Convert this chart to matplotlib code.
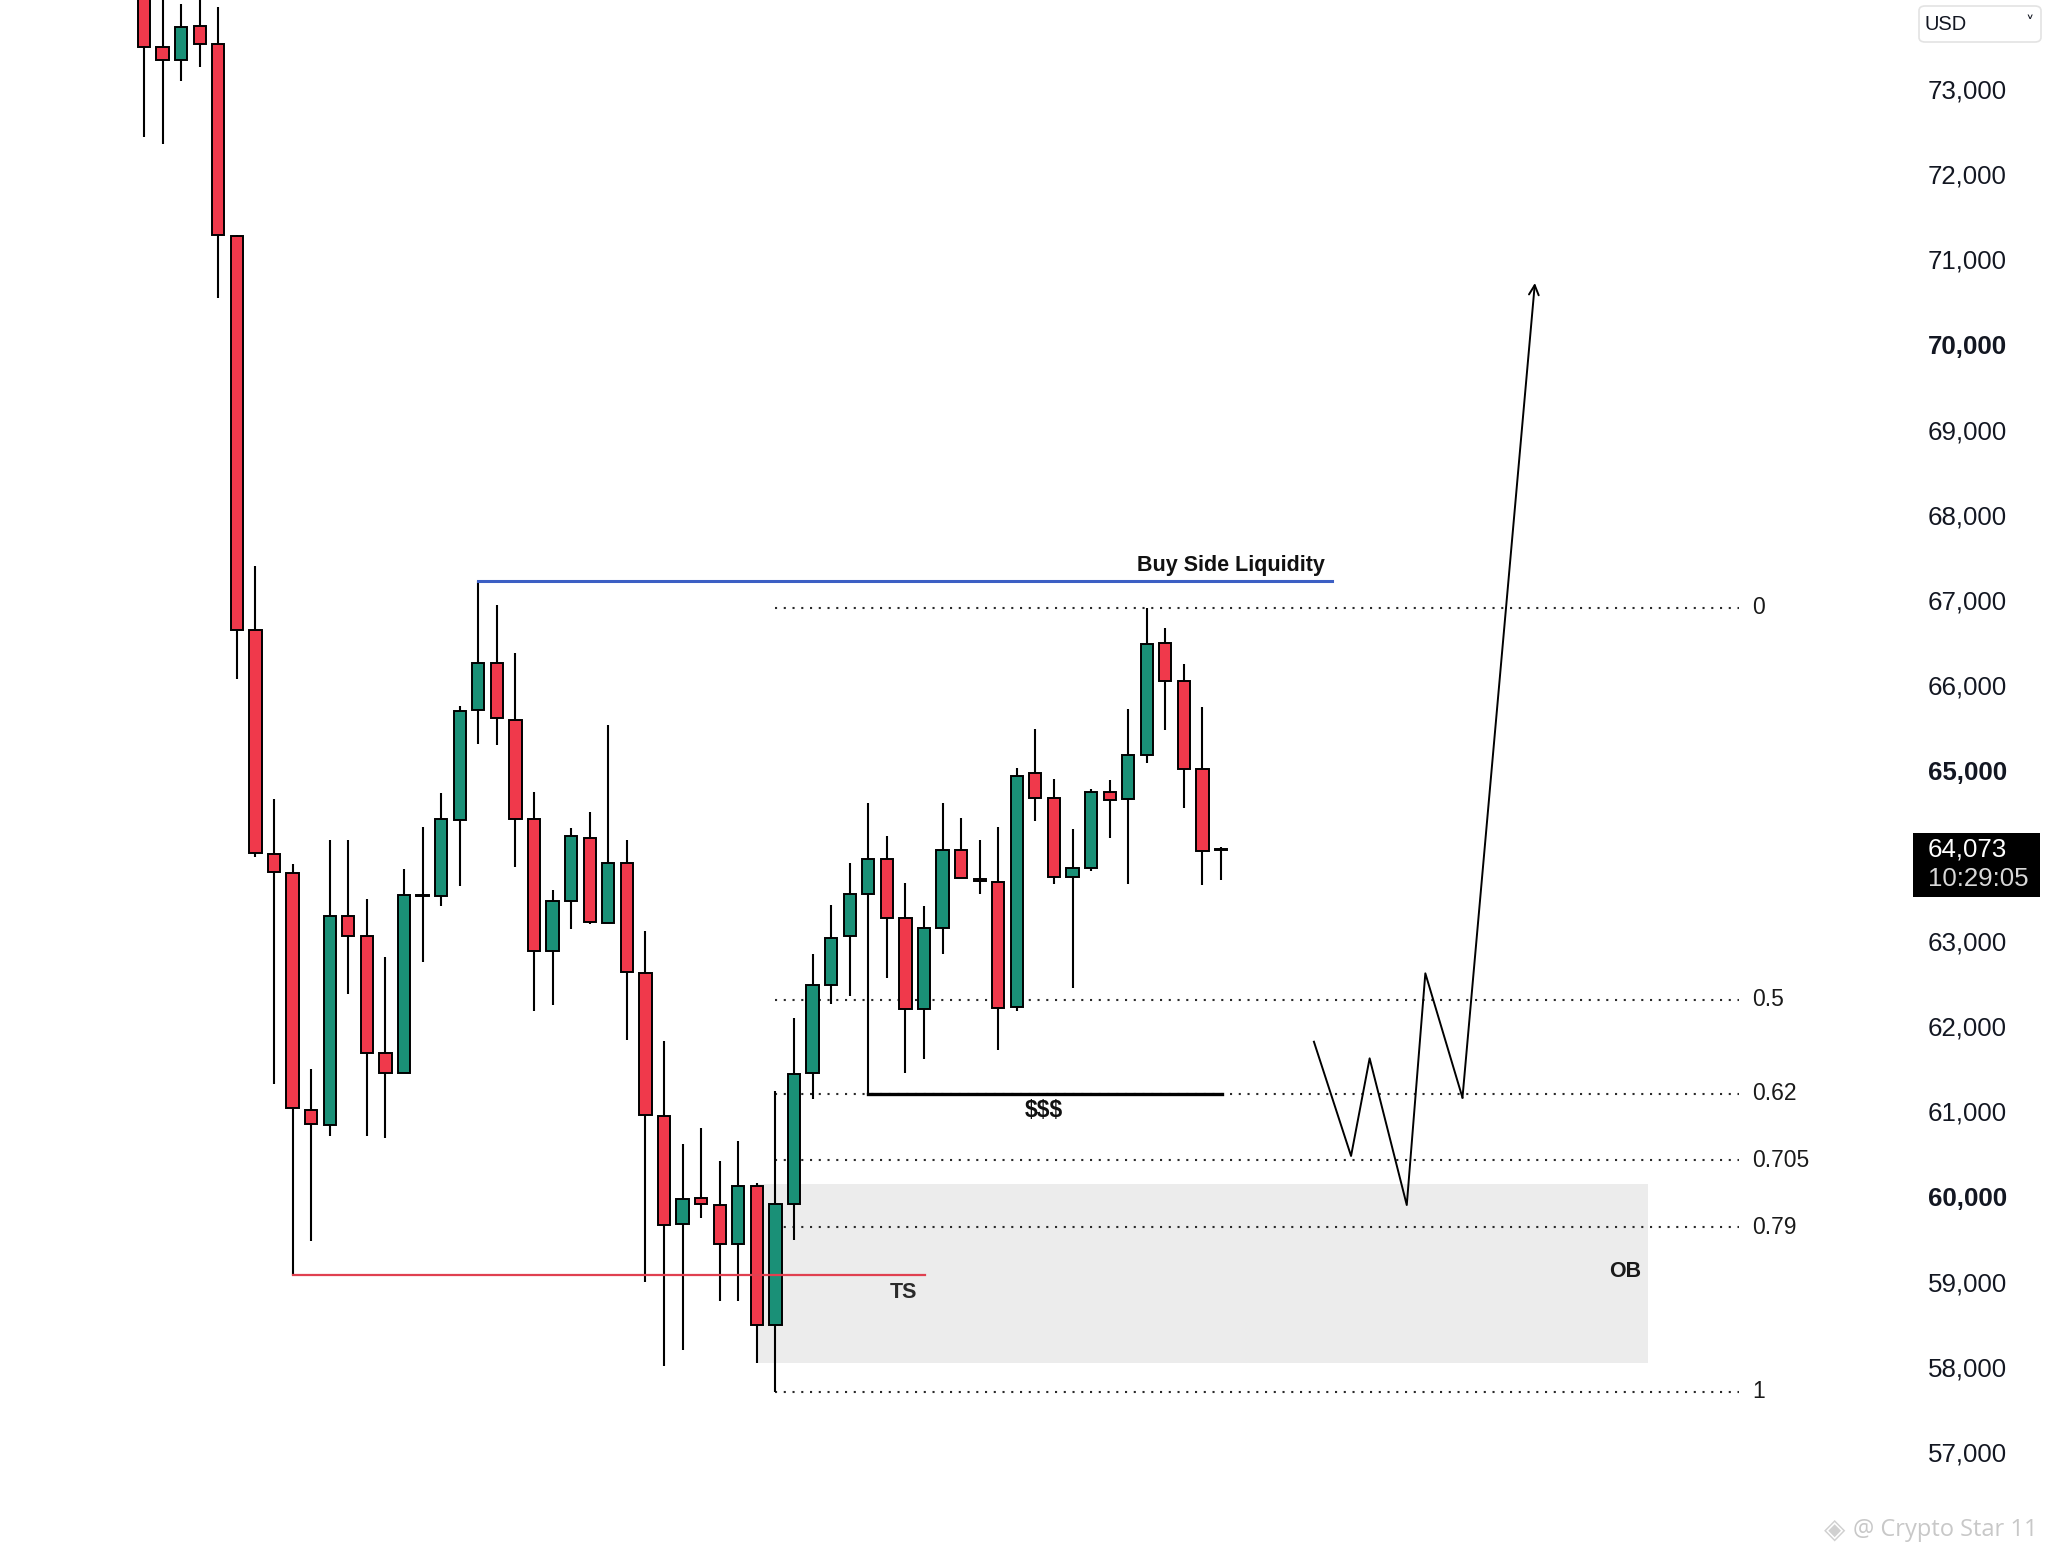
import matplotlib
matplotlib.use("Agg")
from matplotlib import pyplot as plt
from matplotlib.patches import Rectangle, FancyBboxPatch
import numpy as np

plt.rcParams['font.family'] = ['Liberation Sans', 'DejaVu Sans']

# candles (open, high, low, close), one per bar
opens = [74300, 73494, 73338, 73737, 73534, 71271, 66650, 64024, 63794, 61017,
         60844, 63296, 63055, 61682, 61446, 63532, 63527, 64417, 65707, 66267,
         65597, 64433, 62887, 63474, 64213, 63210, 63920, 62625, 60945, 59680,
         59980, 59897, 59438, 60126, 58489, 59916, 61444, 62483, 63056, 63553,
         63961, 63273, 62196, 63152, 64069, 63725, 63693, 62220, 64968, 64672,
         63754, 63862, 64752, 64663, 65188, 66492, 66052, 65013, 64073]
highs = [74500, 74200, 73996, 74100, 73957, 71290, 67404, 64669, 63909, 61499,
         64187, 64187, 63490, 62809, 63841, 64339, 64742, 65754, 67230, 66938,
         66382, 64748, 63595, 64323, 64512, 65530, 64185, 63115, 61827, 60617,
         60808, 60413, 60655, 60158, 61241, 62101, 62852, 63419, 63916, 64617,
         64235, 63680, 63407, 64617, 64439, 64190, 64343, 65031, 65490, 64905,
         64312, 64788, 64887, 65719, 66910, 66672, 66245, 65741, 64101]
lows = [72437, 72360, 73095, 73260, 70547, 66075, 63988, 61315, 59080, 59481,
        60713, 62374, 60713, 60687, 61446, 62756, 63411, 63647, 65313, 65298,
        63867, 62180, 62248, 63139, 63202, 63210, 61840, 58992, 58011, 58202,
        59744, 58769, 58769, 58043, 57710, 59489, 61145, 62260, 62356, 61206,
        62566, 61451, 61610, 62852, 63738, 63553, 61718, 62175, 64410, 63674,
        62447, 63826, 64213, 63674, 65089, 65472, 64564, 63651, 63719]
closes = [73494, 73338, 73729, 73534, 71283, 66650, 64038, 63804, 61038, 60854,
          63296, 63055, 61682, 61446, 63542, 63540, 64433, 65701, 66267, 65612,
          64433, 62887, 63474, 64234, 63228, 63920, 62630, 60960, 59661, 59967,
          59916, 59438, 60126, 58489, 59916, 61438, 62483, 63037, 63553, 63961,
          63273, 62196, 63152, 64069, 63738, 63700, 62216, 64940, 64683, 63754,
          63853, 64752, 64653, 65179, 66483, 66052, 65018, 64056, 64073]

price_ticks = [57000, 58000, 59000, 60000, 61000, 62000, 63000,
               65000, 66000, 67000, 68000, 69000, 70000, 71000, 72000, 73000]
bold_ticks = [60000, 65000, 70000]

# fib retracement
fib_high = 66910
fib_low = 57710
fib_levels = [0, 0.5, 0.62, 0.705, 0.79, 1]
fib_labels = ['0', '0.5', '0.62', '0.705', '0.79', '1']

bsl_price = 67230      # buy side liquidity
ts_price = 59080       # TS line
ob_top, ob_bottom = 60150, 58050

# projected path
path_x = [63.0, 65.0, 66.0, 68.0, 69.0, 71.0, 74.9]
path_y = [61817, 60476, 61622, 59900, 62620, 61160, 70723]

GREEN = '#1a9077'
RED = '#f0394b'

W, H = 2048, 1555
fig = plt.figure(figsize=(W / 100, H / 100), dpi=100)
fig.patch.set_facecolor('white')
ax = fig.add_axes([0, 0, 1905 / W, 1])
ax.set_facecolor('white')

x = np.arange(len(opens))
o = np.array(opens); c = np.array(closes)
cols = [GREEN if cc > oo else RED for oo, cc in zip(opens, closes)]
cols[15] = GREEN
bottoms = np.minimum(o, c)
heights = np.maximum(np.abs(c - o), 12)

ax.vlines(x, lows, highs, color='black', lw=1.5, zorder=2)
ax.bar(x, heights, bottom=bottoms, width=0.66, color=cols, edgecolor='black',
       linewidth=1.4, zorder=3)

# order block
ax.add_patch(Rectangle((33, ob_bottom), 81 - 33, ob_top - ob_bottom,
                       facecolor='#ececec', edgecolor='none', zorder=0))
ax.text(79.75, 59114, 'OB', fontsize=15.5, fontweight='bold', color='#1a1a1a',
        ha='center', va='center', zorder=5)

# fib levels
for lv, lb in zip(fib_levels, fib_labels):
    p = fib_high - lv * (fib_high - fib_low)
    ax.plot([34, 85.9], [p, p], color='#2a2a2a', lw=1.5,
            linestyle=(0, (1, 3.2)), zorder=1)
    ax.text(86.6, p, lb, fontsize=16.5, color='#1a1a1a', ha='left', va='center')

# buy side liquidity
ax.plot([18, 64], [bsl_price, bsl_price], color='#3c5fc4', lw=2.2, zorder=4)
ax.text(63.6, 67346, 'Buy Side Liquidity', fontsize=15.5, fontweight='bold',
        color='#111111', ha='right', va='baseline')

# TS line
ax.plot([8, 42.05], [ts_price, ts_price], color='#e04050', lw=1.6, zorder=4)
ax.text(40.87, 58879, 'TS', fontsize=15.5, fontweight='bold', color='#2a2a2a',
        ha='center', va='center')

# $$$ line
ax.plot([39, 58.03], [61206, 61206], color='black', lw=2.4, zorder=4)
ax.text(48.47, 61004, '$$$', fontsize=16.5, fontweight='bold', color='#111111',
        ha='center', va='center')

# projected path
ax.plot(path_x[:-1], path_y[:-1], color='black', lw=1.4, zorder=4)
ax.annotate('', xy=(path_x[-1], path_y[-1]), xytext=(path_x[-2], path_y[-2]),
            arrowprops=dict(arrowstyle='->,head_length=0.7,head_width=0.35',
                            color='black', lw=1.4, shrinkA=0, shrinkB=0),
            zorder=4)

ax.set_xlim(-7.755, 94.83)
ax.set_ylim(55792, 74045)
for s in ax.spines.values():
    s.set_visible(False)
ax.set_xticks([])
ax.yaxis.tick_right()
ax.set_yticks(price_ticks)
ax.set_yticklabels([f'{t:,}' for t in price_ticks])
ax.tick_params(axis='y', length=0, pad=16.5, labelsize=18.6, labelcolor='#131722')
for t, lab in zip(price_ticks, ax.get_yticklabels()):
    if t in bold_ticks:
        lab.set_fontweight('bold')

# current price box
fig.canvas.draw()
last = closes[-1]
py = ax.transData.transform((0, last))[1]
fig.add_artist(Rectangle((1913 / W, (py - 47) / H), 127 / W, 64 / H,
                         transform=fig.transFigure, facecolor='black',
                         edgecolor='none', zorder=10))
fig.text(1928 / W, py / H, f'{last:,}', fontsize=18.6, color='white',
         ha='left', va='center', zorder=11)
fig.text(1928 / W, (py - 29) / H, '10:29:05', fontsize=18.6, color='#d8d8d8',
         ha='left', va='center', zorder=11)

# USD selector
fig.add_artist(FancyBboxPatch((1919 / W, 1 - 42 / H), 122 / W, 36 / H,
                              boxstyle='round,pad=0,rounding_size=0.003',
                              transform=fig.transFigure, facecolor='white',
                              edgecolor='#e3e3e3', lw=1.2))
fig.text(1925 / W, 1 - 24 / H, 'USD', fontsize=14.5, color='#131722',
         ha='left', va='center')
fig.text(2030 / W, 1 - 24 / H, '\u02c5', fontsize=12, color='#131722',
         ha='center', va='center', family=['DejaVu Sans'])

# watermark
fig.text(1835 / W, 1 - 1530 / H, '\u25c8', fontsize=20, color='#d0d0d0',
         ha='center', va='center', family=['DejaVu Sans'])
fig.text(1853 / W, 1 - 1530 / H, '@ Crypto Star 11', fontsize=17,
         color='#c8c8c8', ha='left', va='center',
         family=['Open Sans', 'DejaVu Sans'])

fig.savefig('out.png', dpi=100)
